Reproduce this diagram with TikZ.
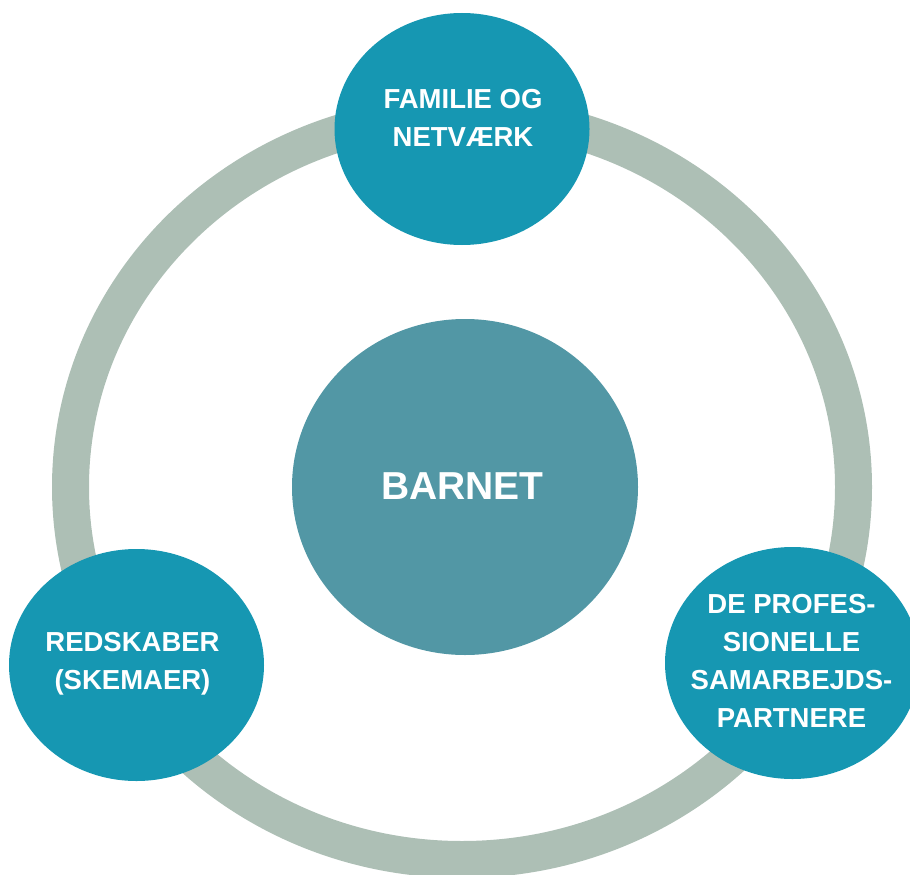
\documentclass[tikz,border=0pt]{standalone}
\usepackage{fontspec}
\setmainfont{Liberation Sans}
\usetikzlibrary{shapes.geometric, positioning}

\definecolor{anillo}{RGB}{173,191,181}
\definecolor{turquesa}{RGB}{22,151,178}
\definecolor{nucleo}{RGB}{82,151,165}

\begin{document}
\begin{tikzpicture}[x=1pt, y=-1pt,
                  bubble/.style={ellipse, fill=turquesa, minimum width=255pt,
                  minimum height=232pt, inner sep=0pt},
                  core/.style={ellipse, fill=nucleo, minimum width=346pt,
                  minimum height=336pt, inner sep=0pt},
                  bubbletext/.style={text=white, align=center, text depth=0pt,
                  inner sep=0pt, font=\bfseries\fontsize{27.5}{38}\selectfont}]

                  \useasboundingbox (0,0) rectangle (910,875);

                  % Dibujamos el anillo exterior.
                  \draw[anillo, line width=37pt] (462,487)
                  ellipse [x radius=391.5pt, y radius=372.5pt];

                  % Asignamos los circulos.
                  \node[core] (barnet) at (465,487) {};
                  \node[bubble] (familie) at (462,129) {};
                  \node[bubble] (redskaber) at (136.5,665) {};
                  \node[bubble] (partnere) at (792.5,663) {};

                  % Escribimos los textos.
                  \node[bubbletext, font=\bfseries\fontsize{39}{46}\selectfont]
                  (barnet-txt) at ([xshift=-2.5pt, yshift=1pt]barnet.center) {BARNET};
                  \node[bubbletext] (familie-txt) at ([xshift=1pt, yshift=11.5pt]familie.center)
                  {FAMILIE OG\\NETVÆRK};
                  \node[bubbletext] (redskaber-txt) at ([xshift=-4pt, yshift=4pt]redskaber.center)
                  {REDSKABER\\(SKEMAER)};
                  \node[bubbletext] (partnere-txt) at ([xshift=-1pt, yshift=2pt]partnere.center)
                  {DE PROFES-\\SIONELLE\\SAMARBEJDS-\\PARTNERE};

                \end{tikzpicture}
\end{document}
